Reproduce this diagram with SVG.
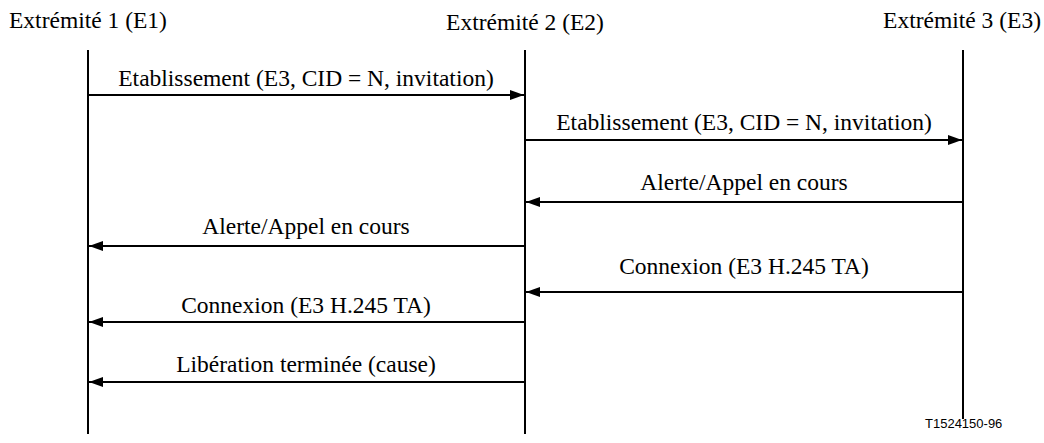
<svg xmlns="http://www.w3.org/2000/svg" width="1044" height="443" viewBox="0 0 1044 443">
<defs>
<style>
.t{font-family:"Liberation Serif","Times New Roman",serif;font-size:23.5px;fill:#000}
.c{text-anchor:middle}
.life{stroke:#000;stroke-width:2;fill:none}
.msg{stroke:#000;stroke-width:2;fill:none;marker-end:url(#ah)}
.ref{font-family:"Liberation Sans",Arial,sans-serif;font-size:13px;fill:#000}
</style>
<marker id="ah" viewBox="0 0 14 10" refX="14" refY="5" markerWidth="14" markerHeight="10" markerUnits="userSpaceOnUse" orient="auto">
<path d="M0,0 L14,5 L0,10 Z" fill="#000"/>
</marker>
</defs>
<rect width="1044" height="443" fill="#fff"/>
<g id="e1">
<text class="t" x="9" y="28">Extrémité 1 (E1)</text>
<line class="life" x1="88" y1="50" x2="88" y2="434"/>
</g>
<g id="e2">
<text class="t c" x="525" y="30">Extrémité 2 (E2)</text>
<line class="life" x1="525" y1="50" x2="525" y2="434"/>
</g>
<g id="e3">
<text class="t" x="1041" y="28" text-anchor="end">Extrémité 3 (E3)</text>
<line class="life" x1="963" y1="50" x2="963" y2="419"/>
</g>
<g id="connectors">
<line class="msg" x1="88" y1="95" x2="524" y2="95"/>
<text class="t c" x="306" y="86">Etablissement (E3, CID = N, invitation)</text>
<line class="msg" x1="525" y1="140" x2="962" y2="140"/>
<text class="t c" x="744" y="130">Etablissement (E3, CID = N, invitation)</text>
<line class="msg" x1="963" y1="202" x2="526" y2="202"/>
<text class="t c" x="744" y="190">Alerte/Appel en cours</text>
<line class="msg" x1="525" y1="246" x2="89" y2="246"/>
<text class="t c" x="306" y="234">Alerte/Appel en cours</text>
<line class="msg" x1="963" y1="292" x2="526" y2="292"/>
<text class="t c" x="744" y="274">Connexion (E3 H.245 TA)</text>
<line class="msg" x1="525" y1="322" x2="89" y2="322"/>
<text class="t c" x="306" y="313">Connexion (E3 H.245 TA)</text>
<line class="msg" x1="525" y1="382" x2="89" y2="382"/>
<text class="t c" x="306" y="372">Libération terminée (cause)</text>
</g>
<text class="ref" x="925" y="428">T1524150-96</text>
</svg>
